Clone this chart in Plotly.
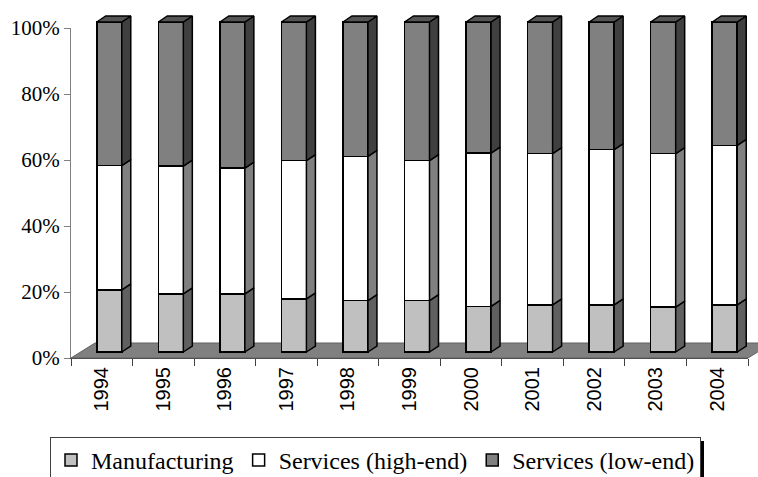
import plotly.graph_objects as go

# ---------------- data (percent shares) ----------------
years = ["1994", "1995", "1996", "1997", "1998", "1999", "2000", "2001", "2002", "2003", "2004"]
manufacturing = [18.8, 17.6, 17.6, 16.1, 15.6, 15.6, 13.8, 14.3, 14.3, 13.6, 14.3]
services_high = [37.7, 38.7, 38.1, 41.9, 43.7, 42.4, 46.5, 45.8, 47.0, 46.5, 48.3]
services_low = [43.5, 43.7, 44.3, 42.0, 40.7, 42.0, 39.7, 39.9, 38.7, 39.9, 37.4]
series_names = ["Manufacturing", "Services (high-end)", "Services (low-end)"]
y_ticks = [0, 20, 40, 60, 80, 100]
y_tick_labels = ["0%", "20%", "40%", "60%", "80%", "100%"]

# ---------------- style / layout constants (pixels) ----------------
W, H = 758, 477
AX_L, AX_R, AX_T, AX_B = 71, 748, 28, 358
N = len(years)
PX = (AX_R - AX_L) / N          # px per category
PY = (AX_B - AX_T) / 100.0      # px per percent
FRONT_DX, FRONT_DY = 7.5, 6.0   # bar front plane offset from axis plane
BAR_W_PX = 25.0
BAR_DEPTH = (9.0, 6.0)
FLOOR_DEPTH = (24.0, 15.0)
LEG_L, LEG_R, LEG_T = 50, 700, 437

front_cols = ["#C0C0C0", "#FFFFFF", "#808080"]
side_cols = ["#606060", "#808080", "#404040"]
top_col = "#555555"

# ranges of the 3D layer (covers whole figure), front plane mapping
def cx(p):
    return (p - AX_L - FRONT_DX) / PX - 0.5

def vy(q):
    return (AX_B - FRONT_DY - q) / PY

x2_range = [cx(0), cx(W)]
y2_range = [vy(H), vy(0)]

bw = BAR_W_PX / PX
ddx, ddy = BAR_DEPTH[0] / PX, BAR_DEPTH[1] / PY

series = [manufacturing, services_high, services_low]
xs = list(range(N))

fig = go.Figure()

# invisible trace so that the axis subplot is drawn
fig.add_trace(go.Scatter(x=xs, y=[None] * N, mode="markers", showlegend=False,
                         hoverinfo="skip", xaxis="x", yaxis="y"))

# front faces as stacked bars
for name, vals, col in zip(series_names, series, front_cols):
    fig.add_trace(go.Bar(
        x=xs, y=vals, name=name, xaxis="x2", yaxis="y2", width=bw,
        marker=dict(color=col, line=dict(color="black", width=1.5)),
        hoverinfo="skip",
    ))

# side faces
bases = [0.0] * N
for vals, scol in zip(series, side_cols):
    px_, py_ = [], []
    for i in range(N):
        b = bases[i]
        t = b + vals[i]
        r = xs[i] + bw / 2
        px_ += [r, r + ddx, r + ddx, r, r, None]
        py_ += [b, b + ddy, t + ddy, t, b, None]
        bases[i] = t
    fig.add_trace(go.Scatter(
        x=px_, y=py_, xaxis="x2", yaxis="y2", mode="lines", fill="toself",
        fillcolor=scol, line=dict(color="black", width=1.5),
        showlegend=False, hoverinfo="skip",
    ))

# top faces
tx, ty = [], []
for i in range(N):
    t = bases[i]
    l, r = xs[i] - bw / 2, xs[i] + bw / 2
    tx += [l, l + ddx, r + ddx, r, l, None]
    ty += [t, t + ddy, t + ddy, t, t, None]
fig.add_trace(go.Scatter(
    x=tx, y=ty, xaxis="x2", yaxis="y2", mode="lines", fill="toself",
    fillcolor=top_col, line=dict(color="black", width=1.5),
    showlegend=False, hoverinfo="skip",
))

# floor (chart base plane)
f_l = cx(AX_L)
f_r = cx(AX_R)
f_y = vy(AX_B)
fdx, fdy = FLOOR_DEPTH[0] / PX, FLOOR_DEPTH[1] / PY
floor_path = (f"M{f_l},{f_y} L{f_r},{f_y} L{f_r + fdx},{f_y + fdy} "
              f"L{f_l + fdx},{f_y + fdy} Z")

shapes = [
    dict(type="path", path=floor_path, xref="x2", yref="y2", layer="below",
         fillcolor="#808080", line=dict(color="#606060", width=1)),
    # legend shadow
    dict(type="rect", xref="paper", yref="paper", x0=(LEG_R - 1) / W, x1=(LEG_R + 4) / W,
         y0=0, y1=(H - LEG_T - 4) / H, fillcolor="black", line=dict(width=0)),
]

fig.update_layout(
    width=W, height=H,
    margin=dict(l=0, r=0, t=0, b=0, autoexpand=False),
    paper_bgcolor="white", plot_bgcolor="rgba(0,0,0,0)",
    barmode="stack",
    showlegend=True,
    shapes=shapes,
    xaxis=dict(
        domain=[AX_L / W, AX_R / W], range=[-0.5, N - 0.5],
        tickmode="array", tickvals=xs, ticktext=years, ticks="",
        tickangle=-90, showgrid=False, zeroline=False,
        showline=True, linecolor="#404040", linewidth=1,
        tickfont=dict(family="Liberation Sans, Arial, sans-serif", size=20, color="black"),
        minor=dict(tickmode="array", tickvals=[i - 0.5 for i in range(N + 1)],
                   ticks="outside", ticklen=7, tickcolor="#404040", showgrid=False),
        anchor="y",
    ),
    yaxis=dict(
        domain=[(H - AX_B) / H, (H - AX_T) / H], range=[0, 100],
        tickmode="array", tickvals=y_ticks, ticktext=y_tick_labels,
        ticks="outside", ticklen=6, tickcolor="#808080",
        showline=True, linecolor="#808080", linewidth=1,
        showgrid=False, zeroline=False,
        tickfont=dict(family="Liberation Serif, Times New Roman, serif", size=21, color="black"),
        anchor="x",
    ),
    xaxis2=dict(domain=[0, 1], range=x2_range, visible=False, anchor="y2"),
    yaxis2=dict(domain=[0, 1], range=y2_range, visible=False, anchor="x2"),
    legend=dict(
        orientation="h", x=LEG_L / W, y=(H - LEG_T) / H, xanchor="left", yanchor="top",
        font=dict(family="Liberation Serif, Times New Roman, serif", size=24, color="black"),
        bgcolor="white", bordercolor="#404040", borderwidth=1,
        traceorder="normal", itemwidth=30,
    ),
)

fig.write_html("out.html", config={"displayModeBar": False},
               post_script="document.body.style.margin='0px';document.body.style.overflow='hidden';")
